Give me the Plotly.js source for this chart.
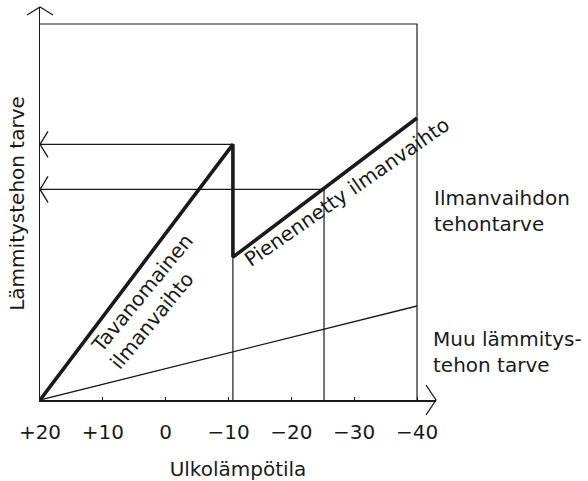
<!DOCTYPE html>
<html>
<head>
<meta charset="utf-8">
<script src="https://cdn.plot.ly/plotly-3.0.1.min.js"></script>
<style>html,body{margin:0;padding:0;background:#fff;}#chart{width:588px;height:481px;}</style>
</head>
<body>
<div id="chart"></div>
<script>
// Outdoor temperature (°C) and heating power demand (relative units)
const curveTemps = [20, -10.7, -10.7, -40];      // thick curve: normal ventilation, then reduced ventilation
const curveDemand = [0, 68, 38, 75];
const otherTemps = [20, -40];                     // other heating demand
const otherDemand = [0, 25];
const peakTemp = -10.7, peakDemand = 68;
const reducedTemp = -25.2, reducedDemand = 56;
const frameTemp = -40, frameTop = 100;
const tickVals = [20, 10, 0, -10, -20, -30, -40];
const tickText = ['+20', '+10', '0', '\u221210', '\u221220', '\u221230', '\u221240'];

const ink = '#1a1a1a';
const thin = {color: ink, width: 1.2};

const traces = [
  // frame (top and right)
  {x: [curveTemps[0], frameTemp, frameTemp], y: [frameTop, frameTop, 0], mode: 'lines', line: thin},
  // guide lines to the peak
  {x: [curveTemps[0], peakTemp, peakTemp], y: [peakDemand, peakDemand, 0], mode: 'lines', line: thin},
  // guide lines to the reduced level
  {x: [curveTemps[0], reducedTemp, reducedTemp], y: [reducedDemand, reducedDemand, 0], mode: 'lines', line: thin},
  // other heating demand
  {x: otherTemps, y: otherDemand, mode: 'lines', line: {color: ink, width: 1.3}},
  // ventilation power demand
  {x: curveTemps, y: curveDemand, mode: 'lines', line: {color: ink, width: 3.6}}
];

const chev = (xref, yref, xa, ya, path) => ({
  type: 'path', xref: xref, yref: yref, xsizemode: 'pixel', ysizemode: 'pixel',
  xanchor: xa, yanchor: ya, path: path, line: {color: ink, width: 1.3}
});

const note = (x, y, text, angle) => ({
  x: x, y: y, xref: 'x', yref: 'y', text: text, showarrow: false,
  textangle: angle, xanchor: 'center', yanchor: 'middle'
});

const layout = {
  width: 588, height: 481,
  margin: {l: 40, r: 152, t: 7, b: 81},
  paper_bgcolor: '#fff', plot_bgcolor: '#fff',
  showlegend: false,
  font: {family: 'DejaVu Sans', size: 20, color: ink},
  xaxis: {
    range: [20, -43.02], showgrid: false, zeroline: false,
    showline: true, linewidth: 1.5, linecolor: ink,
    ticks: 'inside', ticklen: 3, tickwidth: 1, tickcolor: ink,
    tickvals: tickVals, ticktext: tickText, ticklabelstandoff: 13,
    tickfont: {size: 20, color: ink},
    title: {text: 'Ulkolämpötila', standoff: 22, font: {size: 20, color: ink}}
  },
  yaxis: {
    range: [0, 104.52], showgrid: false, zeroline: false,
    showline: true, linewidth: 1.5, linecolor: ink,
    showticklabels: false, ticks: '',
    title: {text: 'Lämmitystehon tarve', standoff: 8, font: {size: 20, color: ink}}
  },
  shapes: [
    chev('paper', 'paper', 0, 1, 'M-13,-8 L0,0 L13,-8'),
    chev('paper', 'paper', 1, 0, 'M-10,15 L0,0 L-10,-15'),
    chev('paper', 'y', 0, peakDemand, 'M8,13 L0,0 L8,-13'),
    chev('paper', 'y', 0, reducedDemand, 'M8,13 L0,0 L8,-13')
  ],
  annotations: [
    note(3.73, 28.46, 'Tavanomainen', -50.5),
    note(2.1, 21.2, 'ilmanvaihto', -50.5),
    note(-28.83, 55.3, 'Pienennetty ilmanvaihto', -34.8),
    {x: -42.4, y: 50.3, xref: 'x', yref: 'y', text: 'Ilmanvaihdon<br>tehontarve', showarrow: false,
     align: 'left', xanchor: 'left', yanchor: 'middle'},
    {x: -42.3, y: 12.8, xref: 'x', yref: 'y', text: 'Muu lämmitys-<br>tehon tarve', showarrow: false,
     align: 'left', xanchor: 'left', yanchor: 'middle'}
  ]
};

Plotly.newPlot('chart', traces, layout, {staticPlot: true, displayModeBar: false});
</script>
</body>
</html>
